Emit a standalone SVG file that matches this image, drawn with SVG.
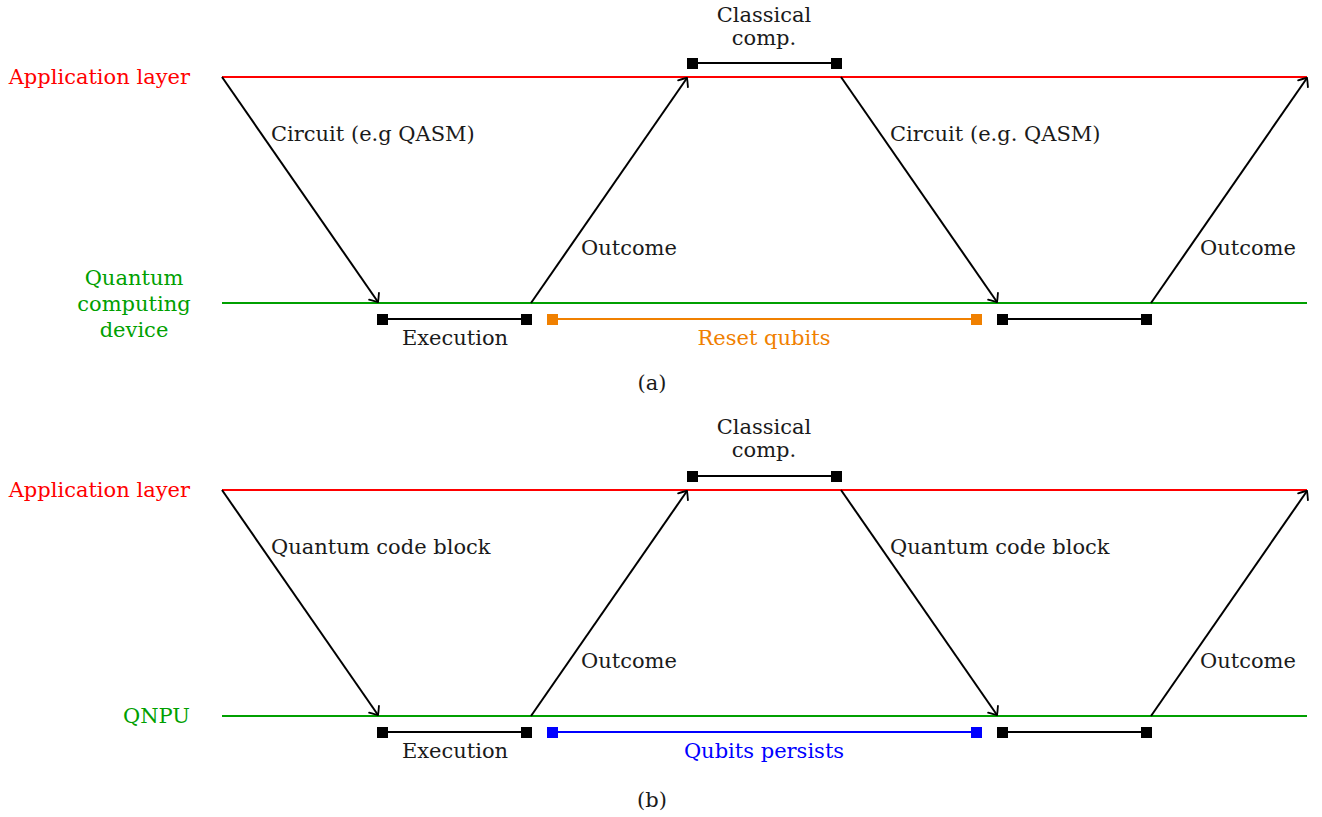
<svg xmlns="http://www.w3.org/2000/svg" width="1322" height="817" viewBox="0 0 1322 817">
<defs>
<marker id="arr" viewBox="-10 -8 12 16" markerWidth="12" markerHeight="16" refX="0" refY="0" orient="auto" markerUnits="userSpaceOnUse">
<path d="M -7 -6 Q -2 -2 0 0 Q -2 2 -7 6" fill="none" stroke="#000" stroke-width="1.8" stroke-linecap="round"/>
</marker>
</defs>
<style>
text{font-family:"DejaVu Serif","Liberation Serif",serif;font-size:21px;fill:#1a1a1a}
.red{fill:#ff0000}.green{fill:#00a000}.orange{fill:#f08000}.blue{fill:#0000ff}
.lr{stroke:#ff0000;stroke-width:2;fill:none}
.lg{stroke:#00a000;stroke-width:2;fill:none}
.ar{stroke:#000;stroke-width:2;fill:none;marker-end:url(#arr)}
.bar{stroke:#000;stroke-width:2}
.sq{fill:#000}
.osq{fill:#f08000}.obar{stroke:#f08000;stroke-width:2}
.bsq{fill:#0000ff}.bbar{stroke:#0000ff;stroke-width:2}
</style>

<!-- Panel (a) -->
<g id="panel-a">
<g id="a-app-label"><text class="red" x="190" y="84" text-anchor="end">Application layer</text></g>
<g id="a-dev-label">
<text class="green" x="134" y="285" text-anchor="middle">Quantum</text>
<text class="green" x="134" y="311" text-anchor="middle">computing</text>
<text class="green" x="134" y="337" text-anchor="middle">device</text>
</g>
<g id="a-timelines">
<line class="lr" x1="222" y1="77" x2="1307" y2="77"/>
<line class="lg" x1="222" y1="303" x2="1307" y2="303"/>
</g>
<g id="a-connectors">
<line class="ar" x1="222" y1="77" x2="378" y2="302"/>
<line class="ar" x1="531" y1="303" x2="687" y2="78"/>
<line class="ar" x1="841" y1="77" x2="997" y2="302"/>
<line class="ar" x1="1151" y1="303" x2="1307" y2="78"/>
</g>
<g id="a-classical">
<line class="bar" x1="692" y1="63" x2="836" y2="63"/>
<rect class="sq" x="687" y="58" width="11" height="11"/>
<rect class="sq" x="831" y="58" width="11" height="11"/>
<text x="764" y="22" text-anchor="middle">Classical</text>
<text x="764" y="45" text-anchor="middle">comp.</text>
</g>
<g id="a-execution">
<line class="bar" x1="383" y1="319" x2="527" y2="319"/>
<rect class="sq" x="377" y="314" width="11" height="11"/>
<rect class="sq" x="521" y="314" width="11" height="11"/>
<text x="455" y="345" text-anchor="middle">Execution</text>
</g>
<g id="a-reset">
<line class="obar" x1="552" y1="319" x2="976" y2="319"/>
<rect class="osq" x="547" y="314" width="11" height="11"/>
<rect class="osq" x="971" y="314" width="11" height="11"/>
<text class="orange" x="764" y="345" text-anchor="middle">Reset qubits</text>
</g>
<g id="a-exec2">
<line class="bar" x1="1002" y1="319" x2="1146" y2="319"/>
<rect class="sq" x="997" y="314" width="11" height="11"/>
<rect class="sq" x="1141" y="314" width="11" height="11"/>
</g>
<g id="a-labels">
<text x="271" y="141">Circuit (e.g QASM)</text>
<text x="581" y="255">Outcome</text>
<text x="890" y="141">Circuit (e.g. QASM)</text>
<text x="1200" y="255">Outcome</text>
<text x="652" y="390" text-anchor="middle">(a)</text>
</g>
</g>

<!-- Panel (b) -->
<g id="panel-b" transform="translate(0,413)">
<g id="b-app-label"><text class="red" x="190" y="84" text-anchor="end">Application layer</text></g>
<g id="b-dev-label"><text class="green" x="190" y="310" text-anchor="end">QNPU</text></g>
<g id="b-timelines">
<line class="lr" x1="222" y1="77" x2="1307" y2="77"/>
<line class="lg" x1="222" y1="303" x2="1307" y2="303"/>
</g>
<g id="b-connectors">
<line class="ar" x1="222" y1="77" x2="378" y2="302"/>
<line class="ar" x1="531" y1="303" x2="687" y2="78"/>
<line class="ar" x1="841" y1="77" x2="997" y2="302"/>
<line class="ar" x1="1151" y1="303" x2="1307" y2="78"/>
</g>
<g id="b-classical">
<line class="bar" x1="692" y1="63" x2="836" y2="63"/>
<rect class="sq" x="687" y="58" width="11" height="11"/>
<rect class="sq" x="831" y="58" width="11" height="11"/>
<text x="764" y="21" text-anchor="middle">Classical</text>
<text x="764" y="44" text-anchor="middle">comp.</text>
</g>
<g id="b-execution">
<line class="bar" x1="383" y1="319" x2="527" y2="319"/>
<rect class="sq" x="377" y="314" width="11" height="11"/>
<rect class="sq" x="521" y="314" width="11" height="11"/>
<text x="455" y="345" text-anchor="middle">Execution</text>
</g>
<g id="b-persist">
<line class="bbar" x1="552" y1="319" x2="976" y2="319"/>
<rect class="bsq" x="547" y="314" width="11" height="11"/>
<rect class="bsq" x="971" y="314" width="11" height="11"/>
<text class="blue" x="764" y="345" text-anchor="middle">Qubits persists</text>
</g>
<g id="b-exec2">
<line class="bar" x1="1002" y1="319" x2="1146" y2="319"/>
<rect class="sq" x="997" y="314" width="11" height="11"/>
<rect class="sq" x="1141" y="314" width="11" height="11"/>
</g>
<g id="b-labels">
<text x="271" y="141">Quantum code block</text>
<text x="581" y="255">Outcome</text>
<text x="890" y="141">Quantum code block</text>
<text x="1200" y="255">Outcome</text>
<text x="652" y="394" text-anchor="middle">(b)</text>
</g>
</g>
</svg>
